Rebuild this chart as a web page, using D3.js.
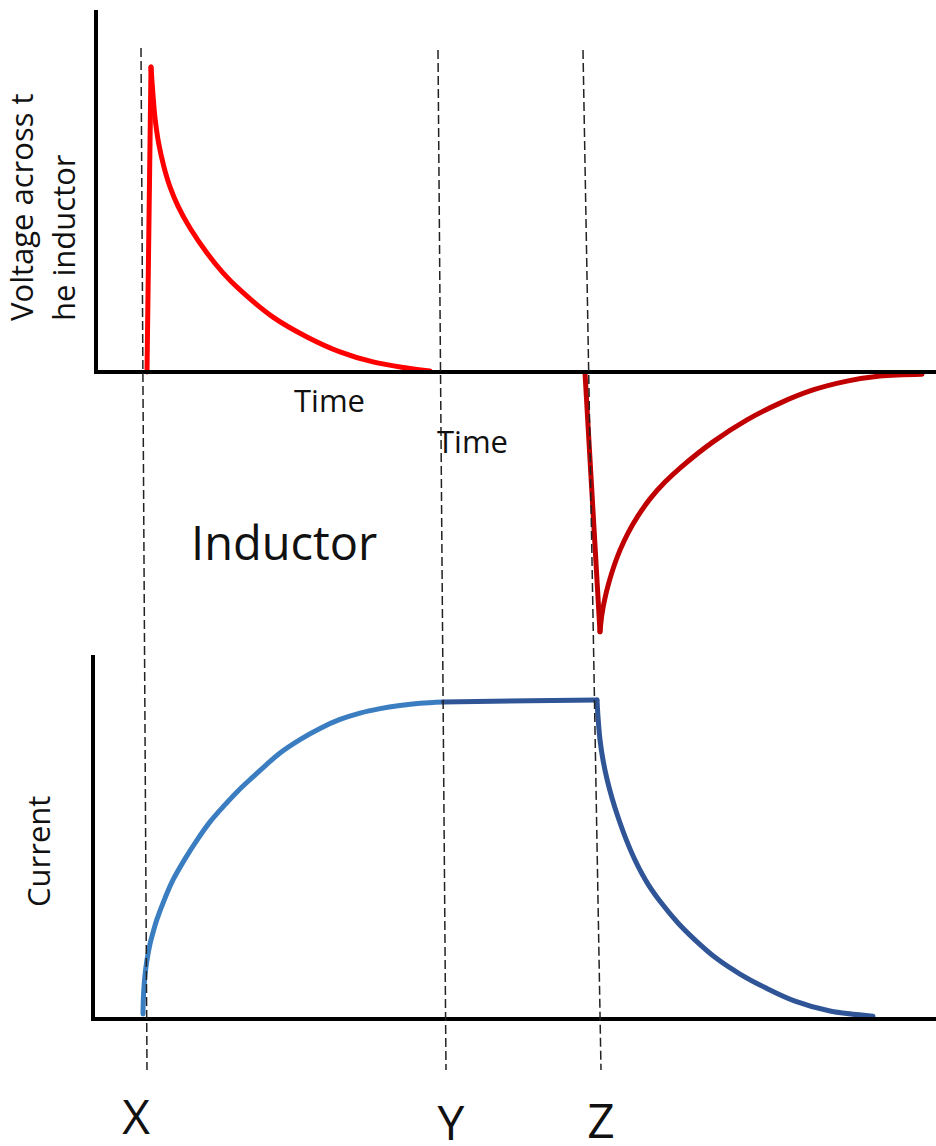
<!DOCTYPE html>
<html>
<head>
<meta charset="utf-8">
<script src="https://cdn.jsdelivr.net/npm/d3@7"></script>
<style>
    body { margin: 0; background: #fff; }
    svg { display: block; font-family: "Open Sans", "Noto Sans", sans-serif; }
</style>
</head>
<body>
<svg id="chart" width="936" height="1146"></svg>
<script>
let WIDTH = 936, HEIGHT = 1146;

// time axis, arbitrary units (0 = left axis)
let timeDomain = [0, 840];

// voltage across the inductor at switch on (X): sharp rise, then decay
let vSpikeT = [51, 55];
let vSpikeV = [0.0, 1.0];
let vOnT = [55, 57, 59, 63, 68, 74, 82, 94, 111, 127, 144, 177, 211, 244, 277, 311, 334];
let vOnV = [1.0, 0.908, 0.833, 0.744, 0.672, 0.607, 0.544, 0.472, 0.39, 0.325, 0.269, 0.18, 0.115, 0.066, 0.033, 0.013, 0.003];

// voltage at switch off (Z): sharp negative dip, then recovery
let vDipT = [489, 504];
let vDipV = [-0.003, -0.852];
let vOffT = [504, 506, 509, 513, 518, 524, 532, 542, 554, 569, 584, 617, 651, 684, 717, 751, 784, 826];
let vOffV = [-0.852, -0.793, -0.741, -0.689, -0.636, -0.584, -0.528, -0.472, -0.416, -0.361, -0.315, -0.229, -0.157, -0.102, -0.059, -0.03, -0.013, -0.007];

// current: rise, steady, decay
let iRiseT = [47, 47.5, 49, 51, 54, 58, 61, 69, 77, 89, 101, 114, 127, 142, 157, 170, 184, 204, 224, 244, 264, 284, 304, 324, 347];
let iRiseV = [0.016, 0.075, 0.138, 0.185, 0.235, 0.282, 0.313, 0.379, 0.436, 0.502, 0.561, 0.618, 0.665, 0.715, 0.759, 0.796, 0.834, 0.876, 0.911, 0.939, 0.959, 0.973, 0.983, 0.99, 0.994];
let iFlatT = [347, 501];
let iFlatV = [0.994, 1.0];
let iFallT = [501, 502, 504, 507, 511, 516, 522, 530, 540, 552, 566, 582, 600, 620, 644, 670, 699, 734, 777];
let iFallV = [1.0, 0.947, 0.875, 0.812, 0.752, 0.693, 0.633, 0.564, 0.492, 0.423, 0.361, 0.301, 0.245, 0.191, 0.141, 0.097, 0.056, 0.025, 0.009];

// event markers (dashed guides drawn slightly slanted, like the sketch)
let markers = ["X", "Y", "Z"];
let markerTop = [45, 342, 487];
let markerBottom = [51, 350, 505];

let svg = d3.select("#chart");

let x = d3.scaleLinear().domain(timeDomain).range([96, 936]);
let yV = d3.scaleLinear().domain([0, 1]).range([372, 67]);
let yI = d3.scaleLinear().domain([0, 1]).range([1019, 700]);

function zip(ts, vs) {
    return ts.map(function(t, i) { return { t: t, v: vs[i] }; });
}

function drawCurve(data, yScale, color, curve) {
    let line = d3.line()
        .x(d => x(d.t))
        .y(d => yScale(d.v))
        .curve(curve);
    svg.append("path")
        .datum(data)
        .attr("d", line)
        .attr("fill", "none")
        .attr("stroke", color)
        .attr("stroke-width", 5)
        .attr("stroke-linecap", "round")
        .attr("stroke-linejoin", "round");
}

let smooth = d3.curveCatmullRom.alpha(0.5);

// curves
drawCurve(zip(vSpikeT, vSpikeV), yV, "#ff0000", d3.curveLinear);
drawCurve(zip(vOnT, vOnV), yV, "#ff0000", smooth);
drawCurve(zip(vDipT, vDipV), yV, "#c00000", d3.curveLinear);
drawCurve(zip(vOffT, vOffV), yV, "#c00000", smooth);
drawCurve(zip(iRiseT, iRiseV), yI, "#3a7dc0", smooth);
drawCurve(zip(iFlatT, iFlatV), yI, "#2f5597", d3.curveLinear);
drawCurve(zip(iFallT, iFallV), yI, "#2f5597", smooth);

// axes (plain thick lines, no ticks)
let axes = svg.append("g").attr("stroke", "#000").attr("stroke-width", 4);
axes.append("line")
    .attr("x1", x(0)).attr("x2", x(0))
    .attr("y1", 10).attr("y2", yV(0) + 2);
axes.append("line")
    .attr("x1", x(0)).attr("x2", x(timeDomain[1]))
    .attr("y1", yV(0)).attr("y2", yV(0));
axes.append("line")
    .attr("x1", x(-3)).attr("x2", x(-3))
    .attr("y1", 655).attr("y2", yI(0) + 2);
axes.append("line")
    .attr("x1", x(-5)).attr("x2", x(timeDomain[1]))
    .attr("y1", yI(0)).attr("y2", yI(0));

// dashed guides
let guideTop = [48, 50, 50];
svg.append("g")
    .selectAll("line")
    .data(markers)
    .join("line")
    .attr("x1", (d, i) => x(markerTop[i]))
    .attr("y1", (d, i) => guideTop[i])
    .attr("x2", (d, i) => x(markerBottom[i]))
    .attr("y2", 1070)
    .attr("stroke", "#222")
    .attr("stroke-width", 1.5)
    .attr("stroke-dasharray", "9,4");

// marker letters
let letterY = [1134, 1140, 1138];
let letterDx = [-11, 5, 0];
svg.append("g")
    .selectAll("text")
    .data(markers)
    .join("text")
    .attr("x", (d, i) => x(markerBottom[i]) + letterDx[i])
    .attr("y", (d, i) => letterY[i])
    .attr("text-anchor", "middle")
    .attr("font-size", 48)
    .attr("fill", "#111")
    .text(d => d);

// labels
let labels = svg.append("g").attr("fill", "#111");

labels.append("text")
    .attr("transform", "translate(33,321) rotate(-90)")
    .attr("font-size", 31)
    .text("Voltage across t");
labels.append("text")
    .attr("transform", "translate(75,321) rotate(-90)")
    .attr("font-size", 31)
    .text("he inductor");
labels.append("text")
    .attr("transform", "translate(50,907) rotate(-90)")
    .attr("font-size", 31)
    .text("Current");

labels.append("text")
    .attr("x", 294).attr("y", 412)
    .attr("font-size", 31)
    .text("Time");
labels.append("text")
    .attr("x", 437).attr("y", 453)
    .attr("font-size", 31)
    .text("Time");

labels.append("text")
    .attr("x", 191).attr("y", 560)
    .attr("font-size", 47)
    .text("Inductor");
</script>
</body>
</html>
